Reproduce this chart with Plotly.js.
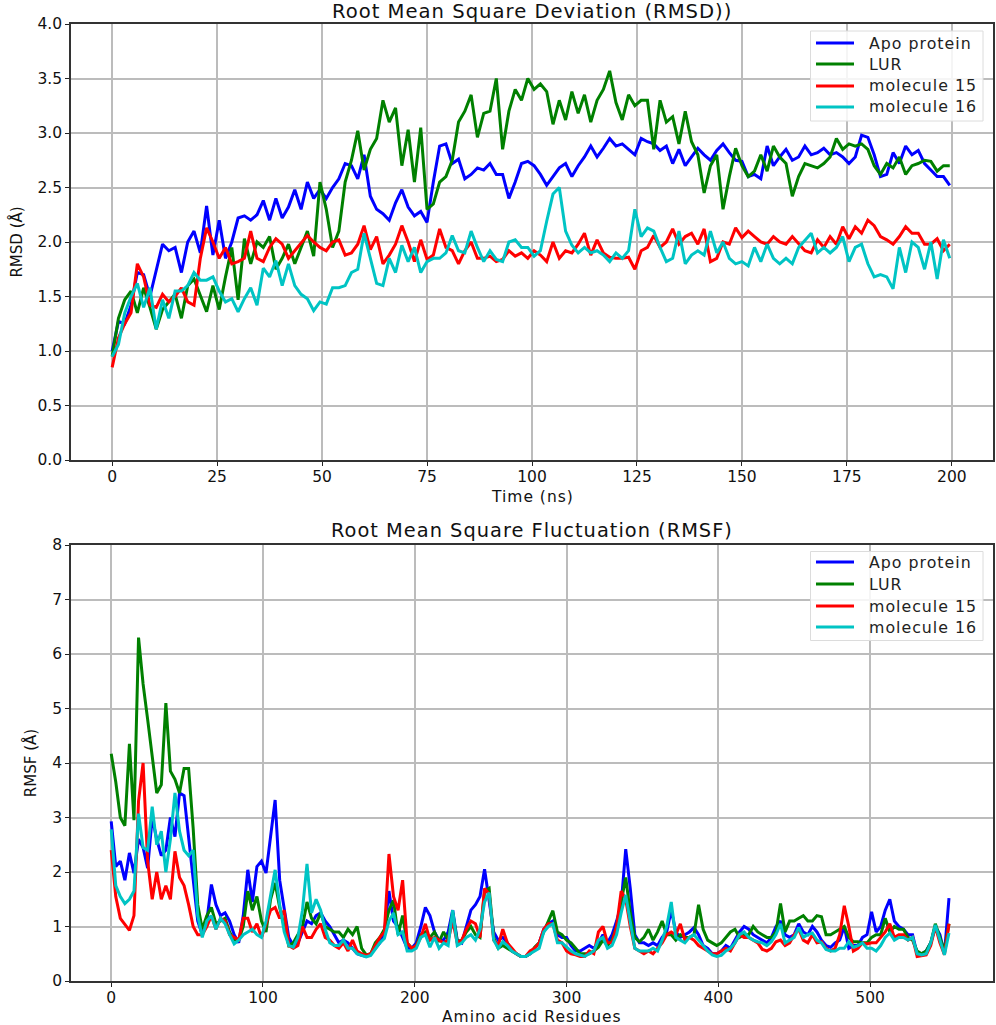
<!DOCTYPE html>
<html>
<head>
<meta charset="utf-8">
<script src="https://cdn.plot.ly/plotly-3.0.1.min.js"></script>
<style>
body{margin:0;background:#fff}
/* the picture's lettering is stretched sideways */
.annotation-text{letter-spacing:1px}
</style>
</head>
<body>
<div id="chart" style="width:996px;height:1025px"></div>
<script>
// RMSD, read every 1.5 ns
var apoRmsd = [1.0,1.27,1.25,1.42,1.72,1.7,1.5,1.75,1.98,1.92,1.95,1.72,2.0,2.1,1.9,2.33,1.88,2.2,1.85,2.0,2.22,2.24,2.2,2.25,2.38,2.2,2.4,2.22,2.32,2.48,2.3,2.55,2.4,2.48,2.4,2.5,2.58,2.72,2.7,2.58,2.8,2.42,2.3,2.26,2.2,2.36,2.48,2.32,2.24,2.28,2.18,2.55,2.88,2.9,2.72,2.76,2.58,2.62,2.68,2.66,2.72,2.62,2.62,2.4,2.55,2.72,2.74,2.7,2.62,2.52,2.6,2.68,2.72,2.6,2.7,2.78,2.88,2.78,2.86,2.95,2.88,2.9,2.85,2.8,2.95,2.92,2.9,2.84,2.88,2.72,2.85,2.7,2.78,2.86,2.8,2.75,2.84,2.9,2.82,2.75,2.74,2.6,2.62,2.58,2.88,2.7,2.78,2.85,2.75,2.78,2.88,2.8,2.82,2.86,2.8,2.82,2.78,2.72,2.78,2.98,2.96,2.8,2.6,2.62,2.82,2.72,2.88,2.8,2.84,2.72,2.66,2.6,2.6,2.52];
var lurRmsd = [0.95,1.3,1.47,1.55,1.35,1.58,1.4,1.2,1.38,1.45,1.52,1.3,1.6,1.66,1.5,1.36,1.6,1.38,1.68,1.95,1.47,2.03,1.8,2.0,1.95,2.05,1.75,1.85,1.98,1.8,1.95,2.1,1.87,2.55,2.3,1.95,2.1,2.55,2.75,3.02,2.66,2.85,2.95,3.3,3.1,3.23,2.7,3.03,2.55,3.05,2.3,2.35,2.55,2.6,2.75,3.1,3.2,3.35,2.96,3.18,3.2,3.5,2.85,3.2,3.4,3.3,3.5,3.4,3.45,3.38,3.08,3.3,3.12,3.38,3.18,3.35,3.1,3.3,3.4,3.57,3.28,3.12,3.35,3.25,3.3,3.3,2.85,3.3,3.1,3.15,2.9,3.2,2.92,2.8,2.45,2.7,2.8,2.3,2.6,2.86,2.7,2.6,2.65,2.8,2.65,2.88,2.78,2.72,2.42,2.6,2.72,2.7,2.68,2.72,2.78,2.95,2.85,2.9,2.88,2.9,2.85,2.7,2.62,2.72,2.68,2.78,2.62,2.7,2.72,2.75,2.74,2.65,2.7,2.7];
var mol15Rmsd = [0.85,1.12,1.25,1.35,1.8,1.68,1.42,1.4,1.52,1.45,1.5,1.58,1.45,1.42,1.85,2.13,2.0,1.85,1.95,1.8,1.82,1.85,2.1,1.85,1.82,1.95,2.03,1.98,1.85,1.92,2.0,2.06,2.0,1.95,1.92,2.0,2.02,1.88,1.9,1.98,2.15,1.93,2.05,1.8,1.88,1.98,2.15,2.0,1.82,2.02,1.84,1.88,2.12,1.95,1.92,1.8,1.92,2.0,1.85,1.85,1.87,1.82,1.84,1.92,1.87,1.9,1.85,1.92,1.88,1.82,2.0,1.85,1.92,1.9,1.98,2.08,1.88,2.02,1.9,1.86,1.85,1.85,1.86,1.75,1.92,1.95,2.06,1.95,2.0,2.12,1.98,2.05,2.08,1.98,2.12,1.82,1.85,2.0,1.98,2.13,2.04,2.1,2.05,2.0,1.98,2.05,2.0,1.98,2.05,1.98,1.92,1.9,2.02,1.95,2.05,1.98,2.14,2.03,2.14,2.08,2.2,2.15,2.05,2.02,1.98,2.05,2.14,2.08,2.08,1.98,1.98,2.03,1.92,1.98];
var mol16Rmsd = [0.95,1.06,1.35,1.5,1.62,1.4,1.58,1.2,1.47,1.3,1.55,1.55,1.6,1.72,1.65,1.65,1.68,1.55,1.45,1.48,1.36,1.48,1.58,1.42,1.76,1.68,1.83,1.6,1.8,1.6,1.52,1.48,1.37,1.45,1.43,1.58,1.58,1.6,1.72,1.75,2.08,1.85,1.62,1.6,1.85,1.72,1.97,1.82,1.95,1.72,1.82,1.85,1.85,1.9,2.06,1.92,1.9,2.1,1.95,1.82,1.92,1.84,1.82,2.0,2.02,1.95,1.95,1.87,1.92,2.19,2.44,2.5,2.1,1.97,1.9,1.95,1.9,1.92,1.88,1.82,1.9,1.85,1.92,2.3,2.05,2.13,2.1,1.95,1.82,1.85,2.1,1.8,1.88,1.92,1.88,2.1,1.9,2.0,1.85,1.8,1.82,1.78,1.95,1.82,1.98,1.85,1.8,1.85,1.8,1.95,2.02,2.08,1.9,1.95,1.9,1.95,2.05,1.82,1.95,1.98,1.8,1.68,1.7,1.68,1.57,1.95,1.72,2.0,1.95,1.75,2.0,1.66,2.02,1.85];

// RMSF, read every 3 residues
var apoRmsf = [2.93,2.1,2.2,1.85,2.35,1.98,2.6,2.45,2.07,3.0,2.6,2.3,2.4,3.0,2.65,3.45,3.4,2.6,1.8,1.1,0.85,1.1,1.77,1.4,1.2,1.25,1.1,0.85,0.7,1.2,2.04,1.45,2.1,2.2,1.98,2.7,3.32,1.85,1.3,0.8,0.65,0.7,0.9,1.1,1.05,1.2,1.25,1.1,1.0,0.85,0.7,0.75,0.7,0.6,0.5,0.47,0.45,0.5,0.6,0.7,0.9,1.65,1.1,1.0,0.8,0.6,0.6,0.7,1.0,1.35,1.2,0.9,0.75,0.75,0.9,1.3,0.75,0.7,1.0,1.3,1.4,1.55,2.05,1.45,0.9,0.75,0.8,0.7,0.55,0.5,0.45,0.45,0.5,0.6,0.7,0.95,1.05,1.1,0.85,0.8,0.8,0.65,0.55,0.55,0.6,0.65,0.6,0.7,0.85,0.7,0.85,1.1,1.4,2.42,1.7,0.85,0.7,0.7,0.65,0.7,0.65,0.8,0.9,1.3,0.9,0.8,0.85,0.9,0.98,0.85,0.65,0.6,0.5,0.5,0.55,0.65,0.6,0.75,0.9,1.0,0.95,0.85,0.8,0.75,0.7,0.8,1.0,1.1,0.85,0.8,0.85,1.05,0.9,0.85,1.0,0.9,0.75,0.65,0.62,0.7,0.75,1.0,0.6,0.65,0.65,0.8,0.85,1.27,0.9,1.0,1.3,1.5,1.1,1.0,0.95,0.85,0.85,0.5,0.5,0.55,0.7,1.0,0.85,0.5,1.52];
var lurRmsf = [4.17,3.65,3.0,2.85,4.35,2.95,6.3,5.45,4.8,4.1,3.45,3.6,5.1,3.85,3.7,3.45,3.9,3.9,2.8,1.4,0.95,1.2,1.35,1.05,1.1,1.15,0.9,0.75,0.75,1.0,1.65,1.3,1.55,1.1,0.9,1.5,1.8,1.35,1.0,0.65,0.7,0.85,1.0,1.45,1.15,1.05,1.25,1.0,0.95,0.9,0.9,0.8,0.95,0.85,1.0,0.6,0.48,0.5,0.7,0.8,0.95,1.3,1.48,0.85,1.2,0.7,0.6,0.65,0.85,0.9,0.8,0.9,0.72,0.9,0.75,1.25,0.72,0.75,0.9,1.0,0.85,0.8,1.65,1.7,0.8,0.6,0.65,0.6,0.55,0.5,0.45,0.45,0.5,0.62,0.7,0.9,1.1,1.29,0.9,0.85,0.75,0.7,0.6,0.5,0.5,0.5,0.55,0.62,0.75,0.65,0.75,1.0,1.45,1.9,1.25,0.8,0.72,0.8,0.95,0.75,0.9,1.1,0.85,0.85,0.75,0.85,0.8,0.8,0.85,1.4,0.95,0.75,0.7,0.65,0.7,0.8,0.9,0.95,0.8,0.85,0.85,1.0,0.9,0.85,0.8,0.8,0.9,1.42,0.9,1.1,1.1,1.15,1.2,1.1,1.1,1.2,1.18,0.85,0.85,0.9,0.95,1.0,0.8,0.72,0.72,0.7,0.7,0.8,0.85,0.85,1.15,0.9,1.0,0.95,0.95,0.8,0.75,0.55,0.5,0.55,0.7,1.05,0.8,0.55,1.05];
var mol15Rmsf = [2.4,1.55,1.15,1.05,0.93,1.2,3.3,4.0,2.2,1.5,2.0,1.5,1.75,1.5,2.38,1.9,1.75,1.4,1.0,0.85,0.85,1.0,1.2,0.95,1.15,1.1,0.85,0.8,0.75,1.15,1.15,0.9,1.05,0.8,1.05,1.3,1.35,1.15,1.3,0.65,0.6,0.65,1.0,0.8,0.8,0.95,1.05,0.8,0.75,0.65,0.6,0.7,0.55,0.75,0.55,0.5,0.47,0.5,0.65,0.8,0.9,2.33,1.55,1.3,1.85,0.7,0.6,0.65,0.8,1.05,0.75,0.8,0.75,0.7,0.75,1.1,0.7,0.75,0.95,1.1,1.05,0.8,1.7,1.6,0.75,0.65,0.95,0.7,0.6,0.5,0.45,0.45,0.55,0.6,0.7,0.95,1.05,1.05,0.75,0.7,0.55,0.5,0.48,0.45,0.45,0.55,0.5,0.9,1.0,0.7,0.7,1.0,1.65,1.5,1.0,0.6,0.55,0.5,0.55,0.5,0.6,0.7,0.85,0.9,0.85,1.05,0.75,0.8,0.75,0.65,0.6,0.55,0.5,0.5,0.55,0.6,0.55,0.7,0.85,0.8,0.8,0.75,0.7,0.58,0.55,0.6,0.72,0.75,0.65,0.7,0.85,0.95,0.75,0.7,0.85,0.7,0.72,0.6,0.55,0.6,0.85,1.38,1.0,0.55,0.6,0.7,0.68,0.7,0.7,0.8,0.9,1.05,0.8,0.85,0.85,0.75,0.8,0.45,0.47,0.48,0.65,1.0,0.7,0.48,1.05];
var mol16Rmsf = [2.78,1.75,1.55,1.42,1.5,1.65,3.07,2.45,2.4,3.2,2.5,2.75,2.0,2.6,3.45,2.75,2.4,2.3,2.4,1.2,0.8,1.1,1.2,0.95,1.15,1.05,0.85,0.68,0.75,0.85,0.9,0.95,0.85,0.8,1.1,1.6,2.04,1.4,0.9,0.65,0.62,0.8,1.3,2.15,1.25,1.5,1.3,0.95,0.7,0.65,0.65,0.75,0.6,0.6,0.5,0.47,0.44,0.47,0.58,0.7,0.78,1.1,1.25,0.85,0.9,0.55,0.55,0.6,0.8,0.85,0.62,0.8,0.6,0.7,0.65,1.3,0.65,0.7,0.8,0.85,0.75,0.95,1.45,1.62,0.75,0.6,0.72,0.65,0.55,0.5,0.45,0.45,0.5,0.55,0.6,0.9,1.0,1.05,0.7,0.7,0.62,0.55,0.5,0.48,0.45,0.5,0.55,0.75,0.8,0.6,0.65,0.85,1.25,1.58,1.1,0.6,0.55,0.55,0.55,0.6,0.55,0.75,1.0,1.45,0.8,0.75,0.7,0.8,0.85,0.75,0.65,0.55,0.48,0.45,0.47,0.55,0.6,0.7,0.85,0.9,0.8,0.75,0.72,0.7,0.65,0.72,0.85,1.05,0.7,0.75,0.8,0.98,0.8,0.85,0.88,0.75,0.7,0.58,0.55,0.55,0.6,0.6,0.72,0.62,0.65,0.7,0.6,0.6,0.55,0.65,0.8,0.88,0.75,0.8,0.8,0.75,0.8,0.5,0.48,0.5,0.7,1.03,0.75,0.48,0.88];

var seriesNames = ['Apo protein', 'LUR', 'molecule 15', 'molecule 16'];
var seriesColors = ['#0000ff', '#008000', '#ff0000', '#00c4c4'];

var time = apoRmsd.map(function(v, i) { return i * 1.5; });
var residues = apoRmsf.map(function(v, i) { return i * 3; });

var font = 'DejaVu Sans, sans-serif';
var gridColor = '#bcbcbc';
var W = 996, H = 1025;

function makeTraces(xs, sets, xa, ya) {
    return sets.map(function(ys, i) {
        return {
            x: xs, y: ys, name: seriesNames[i],
            type: 'scatter', mode: 'lines',
            line: {color: seriesColors[i], width: 3},
            xaxis: xa, yaxis: ya, showlegend: false
        };
    });
}

var data = makeTraces(time, [apoRmsd, lurRmsd, mol15Rmsd, mol16Rmsd], 'x', 'y')
    .concat(makeTraces(residues, [apoRmsf, lurRmsf, mol15Rmsf, mol16Rmsf], 'x2', 'y2'));

function axisStyle(extra) {
    var base = {
        showgrid: true, gridcolor: gridColor, gridwidth: 1.5,
        zeroline: false, showline: true, mirror: true, linecolor: '#333', linewidth: 1.5,
        ticks: 'outside', ticklen: 4, tickcolor: '#222', tickwidth: 1.2,
        tickfont: {family: font, size: 15.5, color: '#111'},
        fixedrange: true
    };
    return Object.assign(base, extra);
}

// box legends: the picture's rows sit closer than plotly's legend allows
var shapes = [], annotations = [];
function addLegend(top, bottom, rowYs) {
    shapes.push({type: 'rect', xref: 'paper', yref: 'paper', x0: 810.5/W, x1: 983/W, y0: 1-bottom/H, y1: 1-top/H,
        fillcolor: 'rgba(255,255,255,0.85)', line: {color: '#dcdcdc', width: 1}});
    seriesNames.forEach(function(name, i) {
        shapes.push({type: 'line', xref: 'paper', yref: 'paper', x0: 816/W, x1: 854/W, y0: 1-rowYs[i]/H, y1: 1-rowYs[i]/H,
            line: {color: seriesColors[i], width: 3}});
        annotations.push({text: name, xref: 'paper', yref: 'paper', x: 867/W, y: 1-rowYs[i]/H,
            xanchor: 'left', yanchor: 'middle', showarrow: false, font: {family: font, size: 15.8, color: '#222'}});
    });
}
addLegend(31, 121, [43, 64, 86, 107]);
addLegend(551.5, 640.5, [562, 584, 606, 627]);

function addLabel(text, y, size) {
    annotations.push({text: text, xref: 'paper', yref: 'paper', x: 532/W, y: 1-y/H,
        xanchor: 'center', yanchor: 'middle', showarrow: false, font: {family: font, size: size, color: '#111'}});
}
addLabel('Root Mean Square Deviation (RMSD))', 11, 19.6);
addLabel('Root Mean Square Fluctuation (RMSF)', 530, 19.4);
addLabel('Time (ns)', 497, 15.5);
addLabel('Amino acid Residues', 1017, 15.5);

var layout = {
    width: W, height: H,
    margin: {t: 0, b: 0, l: 0, r: 0},
    paper_bgcolor: '#fff', plot_bgcolor: '#fff',
    xaxis: axisStyle({domain: [71/W, 993/W], range: [-9.8, 209.8], anchor: 'y', tickvals: [0,25,50,75,100,125,150,175,200], ticklabelstandoff: -2}),
    yaxis: axisStyle({domain: [1-460/H, 1-24/H], range: [0, 4], anchor: 'x', dtick: 0.5, tickformat: '.1f',
        title: {text: 'RMSD (Å)', font: {family: font, size: 15, color: '#111'}, standoff: 11}}),
    xaxis2: axisStyle({domain: [71/W, 993/W], range: [-26.5, 581], anchor: 'y2', tickvals: [0,100,200,300,400,500], ticklabelstandoff: -2}),
    yaxis2: axisStyle({domain: [1-981/H, 1-545/H], range: [0, 8], anchor: 'x2', dtick: 1,
        title: {text: 'RMSF (Å)', font: {family: font, size: 15, color: '#111'}, standoff: 12}}),
    shapes: shapes,
    annotations: annotations
};

Plotly.newPlot('chart', data, layout, {displayModeBar: false});
</script>
</body>
</html>
